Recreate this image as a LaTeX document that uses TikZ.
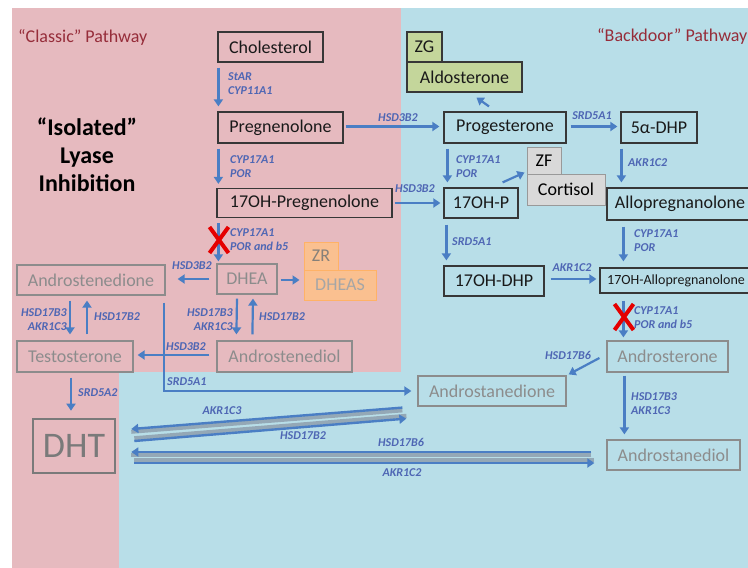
\documentclass[tikz,border=0pt]{standalone}
\usepackage{fontspec}
\setmainfont{Carlito}
\usetikzlibrary{arrows.meta,shapes.misc}

\definecolor{pinkbg}{RGB}{230,186,191}
\definecolor{bluebg}{RGB}{184,222,232}
\definecolor{arrowblue}{RGB}{74,126,196}
\definecolor{enzblue}{RGB}{78,102,180}
\definecolor{pathred}{RGB}{150,45,58}
\definecolor{boxline}{RGB}{55,55,55}
\definecolor{fadetext}{RGB}{140,140,140}
\definecolor{dhtgrey}{RGB}{122,122,122}
\definecolor{zgreen}{RGB}{196,214,155}
\definecolor{zgrey}{RGB}{217,217,217}
\definecolor{zorange}{RGB}{250,192,144}
\definecolor{ribbongrey}{RGB}{140,155,170}

\tikzset{
  blackbox/.style={draw=boxline, line width=1.2pt, inner sep=0pt, text=black!90,
    font=\fontsize{18}{20}\selectfont},
  greybox/.style={draw=fadetext, line width=1.2pt, inner sep=0pt, text=fadetext,
    font=\fontsize{18}{20}\selectfont},
  zonebox/.style={line width=1pt, inner sep=0pt, font=\fontsize{18}{20}\selectfont},
  enz/.style={text=enzblue, font=\fontsize{12}{14}\selectfont\bfseries\itshape,
    inner sep=0pt, align=left},
  arr/.style={draw=arrowblue, line width=2.2pt, -{Triangle[length=7pt,width=9pt]}},
  ribbonlow/.style={arr, line width=2.4pt,
    preaction={draw=ribbongrey, line width=4pt, -, opacity=.8, transform canvas={yshift=-2.8pt}}},
  ribbonhigh/.style={arr, line width=2.4pt,
    preaction={draw=ribbongrey, line width=4pt, -, opacity=.8, transform canvas={yshift=2.8pt}}},
  xmark/.style={cross out, draw=red!90!black, line width=4pt, minimum width=15pt,
    minimum height=22pt, inner sep=0pt},
}

\begin{document}
\begin{tikzpicture}[x=1pt,y=-1pt]
\useasboundingbox (0,0) rectangle (748,568);

% the two pathway areas
\fill[pinkbg] (12,8) -- (401,8) -- (401,372) -- (119,372) -- (119,568) -- (12,568) -- cycle;
\fill[bluebg] (401,8) -- (748,8) -- (748,568) -- (119,568) -- (119,372) -- (401,372) -- cycle;

% headings
\node[anchor=west, inner sep=0pt, text=pathred, font=\fontsize{18}{20}\selectfont] (classic) at (18,37) {“Classic” Pathway};
\node[anchor=west, inner sep=0pt, text=pathred, font=\fontsize{18}{20}\selectfont] (backdoor) at (597,36) {“Backdoor” Pathway};
\node[align=center, inner sep=0pt, font=\fontsize{24}{28}\selectfont\bfseries] (isolated) at (87,155) {“Isolated”\\Lyase\\Inhibition};

% steroids
\node[blackbox, minimum width=105pt, minimum height=30pt] (chol) at (270.5,47) {Cholesterol};
\node[blackbox, minimum width=125pt, minimum height=31pt] (preg) at (280.5,127.5) {Pregnenolone};
\node[blackbox, minimum width=175pt, minimum height=29pt] (ohpreg) at (304.5,203) {17OH-Pregnenolone};
\node[blackbox, minimum width=122pt, minimum height=31pt] (prog) at (505,127.5) {Progesterone};
\node[blackbox, minimum width=76pt, minimum height=31pt] (dhpfive) at (659,127.5) {5α-DHP};
\node[blackbox, minimum width=74pt, minimum height=30pt] (ohp) at (481,203) {17OH-P};
\node[blackbox, minimum width=146pt, minimum height=32pt] (allo) at (680,204) {Allopregnanolone};
\node[blackbox, minimum width=100pt, minimum height=30pt] (ohdhp) at (494,281) {17OH-DHP};
\node[blackbox, minimum width=152pt, minimum height=25pt, font=\fontsize{14}{16}\selectfont] (ohallo) at (676,280.5) {17OH-Allopregnanolone};

% zones
\node[blackbox, fill=zgreen, minimum width=35pt, minimum height=30pt] (zg) at (424.5,47) {ZG};
\node[blackbox, fill=zgreen, minimum width=115pt, minimum height=30pt] (aldo) at (464.5,77) {Aldosterone};
\node[zonebox, draw=gray!80, fill=zgrey, minimum width=34pt, minimum height=27pt] (zf) at (544,160.5) {ZF};
\node[zonebox, draw=gray!80, fill=zgrey, minimum width=78pt, minimum height=31pt] (cort) at (566,189.5) {Cortisol};
\node[zonebox, draw=orange!60, fill=zorange, text=gray!90!brown, minimum width=34pt, minimum height=28pt] (zr) at (321,256) {ZR};
\node[zonebox, draw=orange!60, fill=zorange, text=gray!70, minimum width=72pt, minimum height=30pt] (dheas) at (340,285) {DHEAS};

% androgens
\node[greybox, minimum width=60pt, minimum height=30pt] (dhea) at (247,279) {DHEA};
\node[greybox, minimum width=148pt, minimum height=30pt] (andro) at (91,280) {Androstenedione};
\node[greybox, minimum width=116pt, minimum height=31pt] (testo) at (75,356.5) {Testosterone};
\node[greybox, minimum width=135pt, minimum height=31pt] (adiol) at (284.5,356.5) {Androstenediol};
\node[greybox, minimum width=121pt, minimum height=31pt] (androst) at (667.5,356.5) {Androsterone};
\node[greybox, minimum width=148pt, minimum height=30pt] (adione) at (492,391) {Androstanedione};
\node[greybox, minimum width=133pt, minimum height=30pt] (adioltwo) at (673.5,455) {Androstanediol};
\node[greybox, draw=dhtgrey, text=dhtgrey, line width=2.6pt, minimum width=82pt, minimum height=54pt, font=\fontsize{36}{38}\selectfont] (dht) at (74,446) {DHT};

% classic side
\draw[arr] ([xshift=1pt,yshift=-5pt]chol.south west) -- ([xshift=1pt,yshift=5pt]preg.north west);
\draw[arr] ([xshift=1pt,yshift=-5pt]preg.south west) -- ([xshift=2pt,yshift=4pt]ohpreg.north west);
\draw[arr] ([xshift=2pt,yshift=-5pt]ohpreg.south west) -- ([xshift=2pt,yshift=2pt]dhea.north west);
\draw[arr] ([xshift=3pt,yshift=-1pt]dhea.east) -- ([xshift=-4pt,yshift=5pt]dheas.west);
\draw[arr] ([xshift=-7pt]dhea.west) -- ([xshift=12pt,yshift=1pt]andro.east);
\draw[arr] ([xshift=-21pt,yshift=-5pt]andro.south) -- ([xshift=-5pt,yshift=6pt]testo.north);
\draw[arr] ([xshift=12pt,yshift=6pt]testo.north) -- ([xshift=-4pt,yshift=-5pt]andro.south);
\draw[arr] ([xshift=-10pt,yshift=-4pt]dhea.south) -- ([xshift=20pt,yshift=6pt]adiol.north west);
\draw[arr] ([xshift=36pt,yshift=6pt]adiol.north west) -- ([xshift=6pt,yshift=-4pt]dhea.south);
\draw[arr] ([xshift=-7pt,yshift=1.5pt]adiol.west) -- ([xshift=4pt,yshift=1.5pt]testo.east);
\draw[arr] ([xshift=-2pt,yshift=-7pt]andro.south east) |- ([xshift=-6pt]adione.west);
\draw[arr] ([xshift=-4pt,yshift=-5pt]testo.south) -- ([xshift=-3pt,yshift=7pt]dht.north);

% backdoor side
\draw[arr] ([xshift=2pt,yshift=1pt]preg.east) -- ([xshift=-4pt,yshift=1pt]prog.west);
\draw[arr] ([xshift=-16pt,yshift=5pt]prog.north) -- ([xshift=12pt,yshift=-5pt]aldo.south);
\draw[arr] ([xshift=4pt,yshift=1pt]prog.east) -- ([xshift=-3pt,yshift=1pt]dhpfive.west);
\draw[arr] ([xshift=4pt,yshift=-5pt]prog.south west) -- ([xshift=4pt,yshift=5pt]ohp.north west);
\draw[arr] ([xshift=-16pt,yshift=5pt]ohp.north east) -- ([xshift=-2pt,yshift=-12pt]zf.west);
\draw[arr] ([xshift=1pt,yshift=-5pt]dhpfive.south west) -- ([xshift=15pt,yshift=5pt]allo.north west);
\draw[arr] ([xshift=2pt]ohpreg.east) -- ([xshift=-3pt]ohp.west);
\draw[arr] ([xshift=3pt,yshift=-6pt]ohp.south west) -- ([xshift=3pt,yshift=5pt]ohdhp.north west);
\draw[arr] ([xshift=6pt,yshift=2pt]ohdhp.east) -- ([xshift=-3pt,yshift=1.5pt]ohallo.west);
\draw[arr] ([xshift=17pt,yshift=-6pt]allo.south west) -- ([xshift=24pt,yshift=6pt]ohallo.north west);
\draw[arr] ([xshift=24pt,yshift=-7pt]ohallo.south west) -- ([xshift=17pt,yshift=3pt]androst.north west);
\draw[arr] ([xshift=-7pt,yshift=-1.5pt]androst.west) -- ([xshift=2pt,yshift=1pt]adione.north east);
\draw[arr] ([xshift=18pt,yshift=-3pt]androst.south west) -- ([xshift=18pt,yshift=5pt]adioltwo.north west);

% to and from DHT
\draw[ribbonlow] ([xshift=-15pt,yshift=-1pt]adione.south west) -- ([xshift=15pt,yshift=17pt]dht.east);
\draw[ribbonhigh] ([xshift=18pt,yshift=5pt]dht.east) -- ([xshift=-11pt,yshift=-12pt]adione.south west);
\draw[ribbonlow] ([xshift=-15pt,yshift=3pt]adioltwo.west) -- ([xshift=15pt,yshift=-6pt]dht.east);
\draw[ribbonhigh] ([xshift=18pt,yshift=-17pt]dht.east) -- ([xshift=-12pt,yshift=-8pt]adioltwo.west);

% enzymes
\node[enz, anchor=west] (lstar) at (228,84) {StAR\\CYP11A1};
\node[enz, anchor=west] (lcypa) at (230,167) {CYP17A1\\POR};
\node[enz, anchor=west] (lcype) at (230,240) {CYP17A1\\POR and b5};
\node[enz] (lhsde) at (192,266) {HSD3B2};
\node[enz, anchor=east, align=right] (lhsdf) at (67,320) {HSD17B3\\AKR1C3};
\node[enz, anchor=west] (lhsdg) at (94,317) {HSD17B2};
\node[enz, anchor=east, align=right] (lhsdh) at (233,320) {HSD17B3\\AKR1C3};
\node[enz, anchor=west] (lhsdi) at (259,317) {HSD17B2};
\node[enz] (lhsdj) at (186,347) {HSD3B2};
\node[enz, anchor=west] (lsrdc) at (167,382) {SRD5A1};
\node[enz, anchor=west] (lsrdd) at (78,393) {SRD5A2};
\node[enz] (lhsda) at (398,118) {HSD3B2};
\node[enz] (lsrda) at (592,116) {SRD5A1};
\node[enz, anchor=west] (lcypb) at (456,166.5) {CYP17A1\\POR};
\node[enz, anchor=west] (lakra) at (628,163) {AKR1C2};
\node[enz] (lhsdb) at (415,189) {HSD3B2};
\node[enz, anchor=west] (lsrdb) at (452,242) {SRD5A1};
\node[enz] (lakrb) at (572,268) {AKR1C2};
\node[enz, anchor=west] (lcypc) at (634,240.5) {CYP17A1\\POR};
\node[enz, anchor=west] (lcypd) at (634,317.5) {CYP17A1\\POR and b5};
\node[enz] (lhsdc) at (568,355) {HSD17B6};
\node[enz, anchor=west] (lhsdd) at (631,403.5) {HSD17B3\\AKR1C3};
\node[enz] (lakrc) at (222,411) {AKR1C3};
\node[enz] (lhsdk) at (303,436) {HSD17B2};
\node[enz] (lhsdl) at (401,442) {HSD17B6};
\node[enz] (lakrd) at (402,473) {AKR1C2};

% blocked lyase steps
\node[xmark] (stopa) at (219,240) {};
\node[xmark] (stopb) at (624,317) {};
\end{tikzpicture}
\end{document}
